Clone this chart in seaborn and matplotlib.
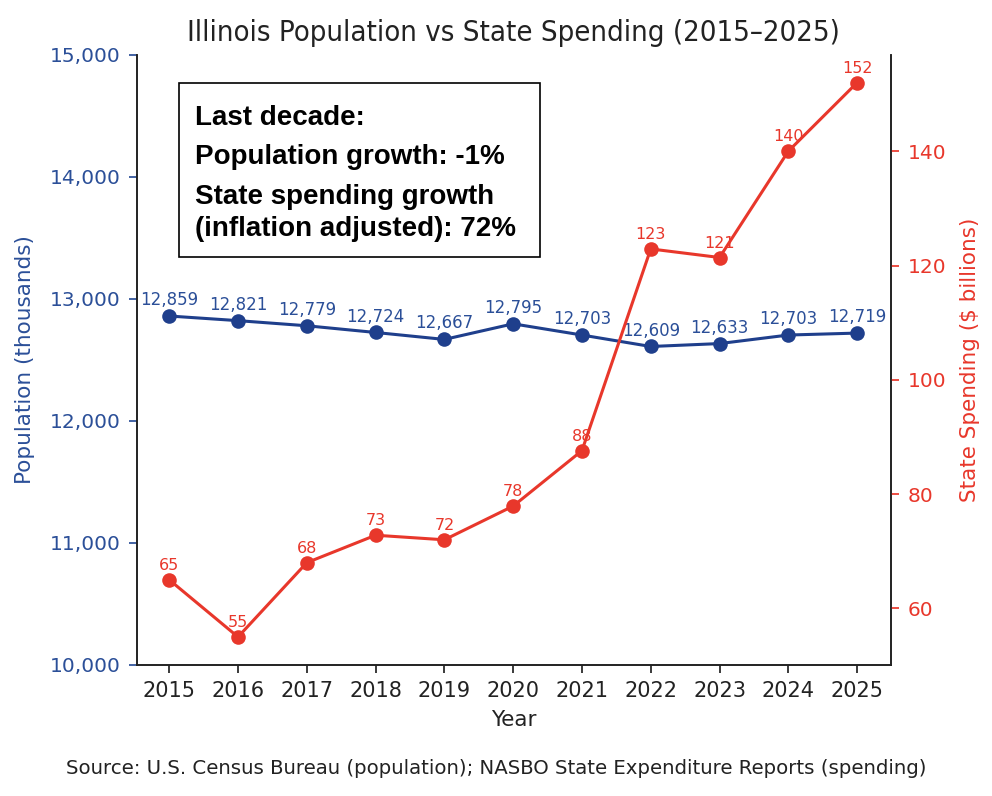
import numpy as np
import pandas as pd
import matplotlib.pyplot as plt
import seaborn as sns
from matplotlib.patches import Rectangle

sns.set_theme(style="ticks")
plt.rcParams["font.family"] = ["DejaVu Sans"]

# data
years = [2015, 2016, 2017, 2018, 2019, 2020, 2021, 2022, 2023, 2024, 2025]
population = [12859, 12821, 12779, 12724, 12667, 12795, 12703, 12609, 12633, 12703, 12719]
spending = [65, 55, 68, 72.8, 72, 77.9, 87.6, 122.9, 121.4, 140, 152]
box_lines = ["Last decade:", "Population growth: -1%", "State spending growth",
             "(inflation adjusted): 72%"]

blue = "#1f3f8c"
blue_tick = "#2b4f98"
red = "#e8372b"

df = pd.DataFrame({"year": years, "population": population, "spending": spending})

fig, ax1 = plt.subplots(figsize=(9.92, 7.96), dpi=100)
fig.subplots_adjust(left=0.138, right=0.898, top=0.931, bottom=0.165)

sns.lineplot(data=df, x="year", y="population", ax=ax1, color=blue, marker="o",
             markersize=10.5, markeredgewidth=0, linewidth=2.2)
ax1.set_ylim(10000, 15000)
ax1.set_yticks([10000, 11000, 12000, 13000, 14000, 15000])
ax1.set_yticklabels([f"{v:,}" for v in [10000, 11000, 12000, 13000, 14000, 15000]])
ax1.set_xlim(2014.53, 2025.49)
ax1.set_xticks(years)
ax1.set_xlabel("Year", fontsize=15.5, color="#222222", labelpad=6)
ax1.set_ylabel("Population (thousands)", fontsize=15.5, color=blue_tick, labelpad=10)
ax1.tick_params(axis="y", colors=blue_tick, labelsize=14.5, length=6, pad=6)
ax1.tick_params(axis="x", labelsize=15, colors="#222222", length=6, pad=6)
for x, y in zip(years, population):
    ax1.annotate(f"{y:,}", (x, y), textcoords="offset points", xytext=(0, 5),
                 ha="center", va="bottom", fontsize=12, color=blue_tick)

ax2 = ax1.twinx()
sns.lineplot(data=df, x="year", y="spending", ax=ax2, color=red, marker="o",
             markersize=10.5, markeredgewidth=0, linewidth=2.2)
ax2.set_ylim(50.15, 156.85)
ax2.set_yticks([60, 80, 100, 120, 140])
ax2.set_ylabel("State Spending ($ billions)", fontsize=15.5, color=red, labelpad=10)
ax2.tick_params(axis="y", colors=red, labelsize=14.5, length=6, pad=6)
for x, y in zip(years, spending):
    ax2.annotate(f"{y:.0f}", (x, y), textcoords="offset points", xytext=(0, 5),
                 ha="center", va="bottom", fontsize=11.5, color=red)

for a in (ax1, ax2):
    a.spines["top"].set_visible(False)
    for s in ("left", "right", "bottom"):
        a.spines[s].set_color("#222222")
        a.spines[s].set_linewidth(1.2)

ax1.set_title("Illinois Population vs State Spending (2015\u20132025)", fontsize=21, pad=10,
              color="#222222", fontstretch="condensed")

# text box
ax2.add_patch(Rectangle((0.0557, 0.669), 0.4788, 0.285, transform=ax2.transAxes,
                        facecolor="white", edgecolor="black", linewidth=1.2, zorder=5))
for line, yy in zip(box_lines, [0.8852, 0.8213, 0.7557, 0.7033]):
    ax2.text(0.0765, yy, line, transform=ax2.transAxes, ha="left", va="baseline",
             fontsize=20, fontweight="bold", family=["Liberation Sans", "DejaVu Sans"],
             color="black", zorder=6)

fig.text(0.5, 0.035,
         "Source: U.S. Census Bureau (population); NASBO State Expenditure Reports (spending)",
         ha="center", va="center", fontsize=14.2, color="#222222")

fig.savefig("out.png", dpi=100)
